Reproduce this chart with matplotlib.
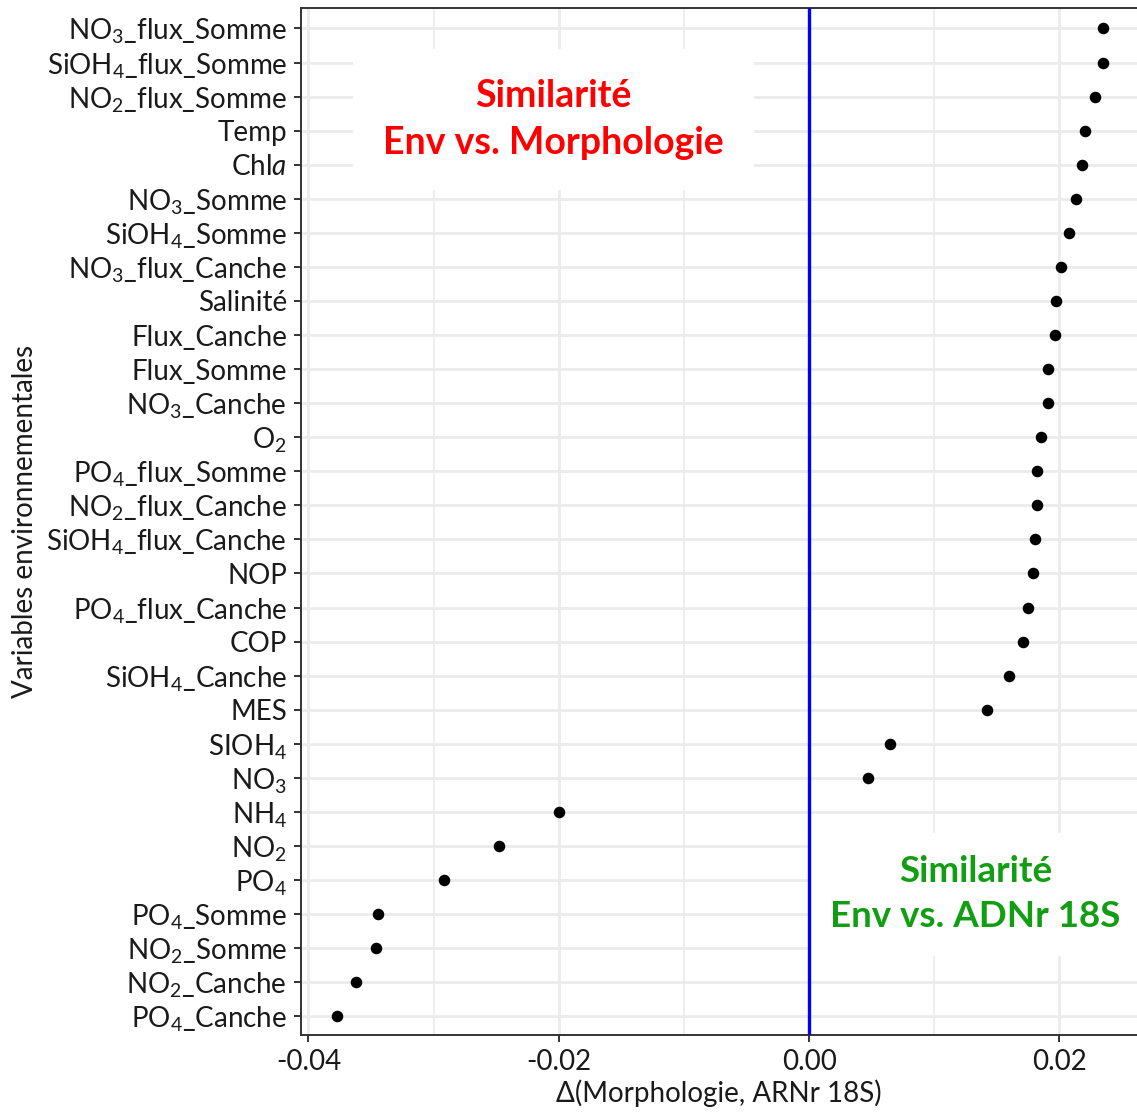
"""Dot plot of environmental variables vs. Delta(Morphologie, ARNr 18S)."""

import matplotlib

matplotlib.use("Agg")
import matplotlib.pyplot as plt
from matplotlib.ticker import FixedLocator

# categories, top to bottom
variables = [
    "NO$_3$_flux_Somme", "SiOH$_4$_flux_Somme", "NO$_2$_flux_Somme", "Temp",
    "Chl$a$", "NO$_3$_Somme", "SiOH$_4$_Somme", "NO$_3$_flux_Canche",
    "Salinité", "Flux_Canche", "Flux_Somme", "NO$_3$_Canche", "O$_2$",
    "PO$_4$_flux_Somme", "NO$_2$_flux_Canche", "SiOH$_4$_flux_Canche", "NOP",
    "PO$_4$_flux_Canche", "COP", "SiOH$_4$_Canche", "MES", "SIOH$_4$",
    "NO$_3$", "NH$_4$", "NO$_2$", "PO$_4$", "PO$_4$_Somme", "NO$_2$_Somme",
    "NO$_2$_Canche", "PO$_4$_Canche",
]
delta = [
    0.02352, 0.02350, 0.02288, 0.02206, 0.02182, 0.02131, 0.02075, 0.02011,
    0.01974, 0.01963, 0.01912, 0.01910, 0.01854, 0.01819, 0.01819, 0.01808,
    0.01792, 0.01747, 0.01707, 0.01600, 0.01424, 0.00650, 0.00469, -0.02000,
    -0.02479, -0.02917, -0.03442, -0.03460, -0.03617, -0.03773,
]
x_major = [-0.04, -0.02, 0.00, 0.02]
x_minor = [-0.03, -0.01, 0.01]

plt.rcParams["font.family"] = ["Lato", "DejaVu Sans"]
plt.rcParams["mathtext.fontset"] = "custom"
plt.rcParams["mathtext.rm"] = "Lato"
plt.rcParams["mathtext.it"] = "Lato:italic"
plt.rcParams["mathtext.bf"] = "Lato:bold"

fig = plt.figure(figsize=(11.37, 11.12), dpi=100)
ax = fig.add_axes([0.2647, 0.0692, 0.7353, 0.9236])

n = len(variables)
ypos = list(range(n))
ax.set_ylim(n - 1 + 0.55, -0.6)
ax.set_xlim(-0.0406, 0.0262)

ax.xaxis.set_major_locator(FixedLocator(x_major))
ax.xaxis.set_minor_locator(FixedLocator(x_minor))
ax.set_xticklabels([f"{v:.2f}" for v in x_major])
ax.set_yticks(ypos)
ax.set_yticklabels(variables)

ax.grid(True, which="major", color="#EBEBEB", lw=2.0, zorder=0)
ax.grid(True, which="minor", axis="x", color="#EBEBEB", lw=1.2, zorder=0)
ax.set_axisbelow(True)

ax.axvline(0, color="#0000FF", lw=2.4, zorder=5)
ax.plot(delta, ypos, "o", color="black", ms=7.3, zorder=3, ls="none")

for side in ["left", "bottom", "top"]:
    ax.spines[side].set_color("#333333")
    ax.spines[side].set_linewidth(1.4)
ax.spines["right"].set_visible(False)

ax.tick_params(axis="both", which="major", length=5, width=1.4,
               color="#333333", labelsize=20, labelcolor="#1a1a1a", pad=5)
ax.tick_params(axis="x", which="minor", length=0)

ax.set_xlabel("Δ(Morphologie, ARNr 18S)", fontsize=20, color="#1a1a1a", labelpad=3)
ax.set_ylabel("Variables environnementales", fontsize=20, color="#1a1a1a", labelpad=6)

box = dict(boxstyle="square,pad=0.8", fc="white", ec="none")
ax.text(-0.0204, 2.68, "Similarité\nEnv vs. Morphologie", color="#FF0000",
        fontsize=27, fontweight="bold", ha="center", va="center",
        linespacing=1.45, bbox=box, zorder=4)
box_g = dict(boxstyle="square,pad=0.6", fc="white", ec="none")
ax.text(0.0133, 25.42, "Similarité\nEnv vs. ADNr 18S", color="#129E12",
        fontsize=26.5, fontweight="bold", ha="center", va="center",
        linespacing=1.45, bbox=box_g, zorder=4)

fig.savefig("out.png", dpi=100)
plt.close(fig)
